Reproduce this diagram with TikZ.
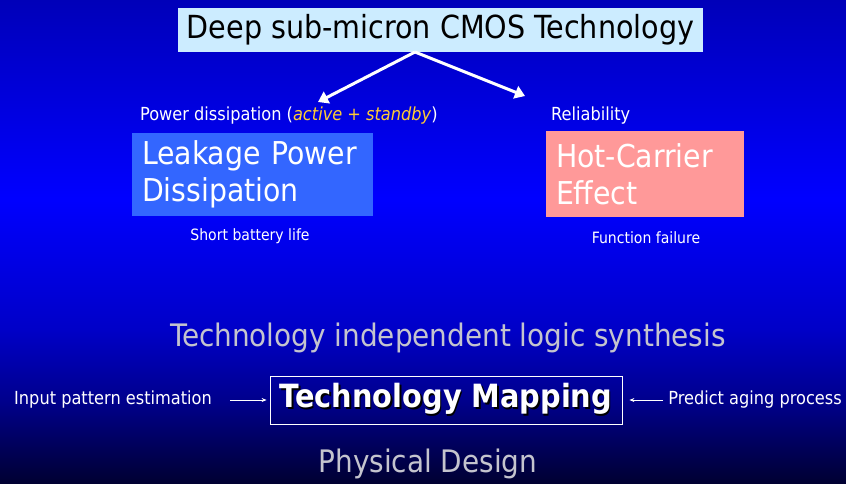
\documentclass[tikz,border=0pt]{standalone}
\usepackage{fontspec}
\setmainfont{DejaVu Sans Condensed}
\usetikzlibrary{arrows.meta}
\definecolor{fondbas}{RGB}{0,0,50}
\definecolor{fondbas2}{RGB}{0,0,140}
\definecolor{fondmilieu}{RGB}{0,0,200}
\definecolor{fondclair}{RGB}{0,0,255}
\definecolor{fondhaut}{RGB}{0,0,185}
\definecolor{monciel}{RGB}{204,236,255}
\definecolor{monbleu}{RGB}{51,102,255}
\definecolor{monrose}{RGB}{255,153,153}
\definecolor{mondore}{RGB}{255,204,51}
\definecolor{mongris}{RGB}{196,196,206}
\pgfdeclareverticalshading{fond}{100bp}{color(0bp)=(fondbas); color(25bp)=(fondbas); color(33.5bp)=(fondbas2); color(41bp)=(fondmilieu); color(54.5bp)=(fondclair); color(75bp)=(fondhaut); color(100bp)=(fondhaut)}
\newcommand{\ombre}[3][0.8pt]{\makebox[0pt][l]{\hspace{#1}\raisebox{-#1}{\color{black}#3}}{\color{#2}#3}}
\tikzset{
  petit/.style={text=white,font=\fontsize{18}{21}\selectfont,inner sep=0pt},
  minus/.style={text=white,font=\fontsize{15.6}{18}\selectfont,inner sep=0pt},
  boite/.style={text=white,font=\fontsize{31.5}{37}\selectfont,align=left,inner xsep=10pt,inner ysep=0pt},
  etape/.style={text=mongris,font=\fontsize{31}{36}\selectfont,inner sep=0pt},
  fleche/.style={white,line width=3pt,-{Triangle[length=10pt,width=13pt]}},
  fine/.style={white,line width=0.8pt,-{Stealth[length=5pt,width=4pt]}}
}
\begin{document}
\begin{tikzpicture}[x=1pt,y=-1pt]
	% Fond %
	\shade[shading=fond] (0,0) rectangle (846,483);
	\useasboundingbox (0,0) rectangle (846,483);
	% Technologie %
	\node[fill=monciel,text=black,inner sep=0pt,minimum width=525,minimum height=44,font=\fontsize{31.8}{36}\selectfont] (techno) at (440.5,30) {Deep sub-micron CMOS Technology};
	\coordinate (sommet) at (415,52);
	\coordinate (pointeg) at (318,102);
	\coordinate (pointed) at (525,96);
	\draw[fleche] (sommet) -- (pointeg);
	\draw[fleche] (sommet) -- (pointed);
	% Fuite %
	\node[petit,anchor=west] (puissance) at (140,116) {Power dissipation (\textit{\color{mondore}active + standby})};
	\node[boite,fill=monbleu,minimum width=241,minimum height=83,text width=221] (fuite) at (252.5,174.5) {Leakage Power\\Dissipation};
	\node[minus] (batterie) at (250,236) {Short battery life};
	% Porteurs chauds %
	\node[petit,anchor=west] (fiabilite) at (551,116) {Reliability};
	\node[boite,fill=monrose,minimum width=198,minimum height=86,text width=178] (porteurs) at (645,174) {Hot-Carrier\\Effect};
	\node[minus] (panne) at (646,238) {Function failure};
	% Flot %
	\node[etape] (synthese) at (448,338) {Technology independent logic synthesis};
	\node[draw=white,line width=0.8pt,inner sep=0pt,minimum width=352,minimum height=48,font=\fontsize{32}{36}\selectfont\bfseries] (mapping) at (446,400) {\ombre[1.5pt]{white}{Technology Mapping}};
	\node[etape] (physique) at (428,464) {Physical Design};
	\node[petit,anchor=west] (entree) at (14,400) {Input pattern estimation};
	\node[petit,anchor=east] (vieillissement) at (842,400) {Predict aging process};
	\draw[fine,shorten <=18pt,shorten >=3pt] (entree) -- (mapping);
	\draw[fine,shorten <=5pt,shorten >=7pt] (vieillissement) -- (mapping);
\end{tikzpicture}
\end{document}
